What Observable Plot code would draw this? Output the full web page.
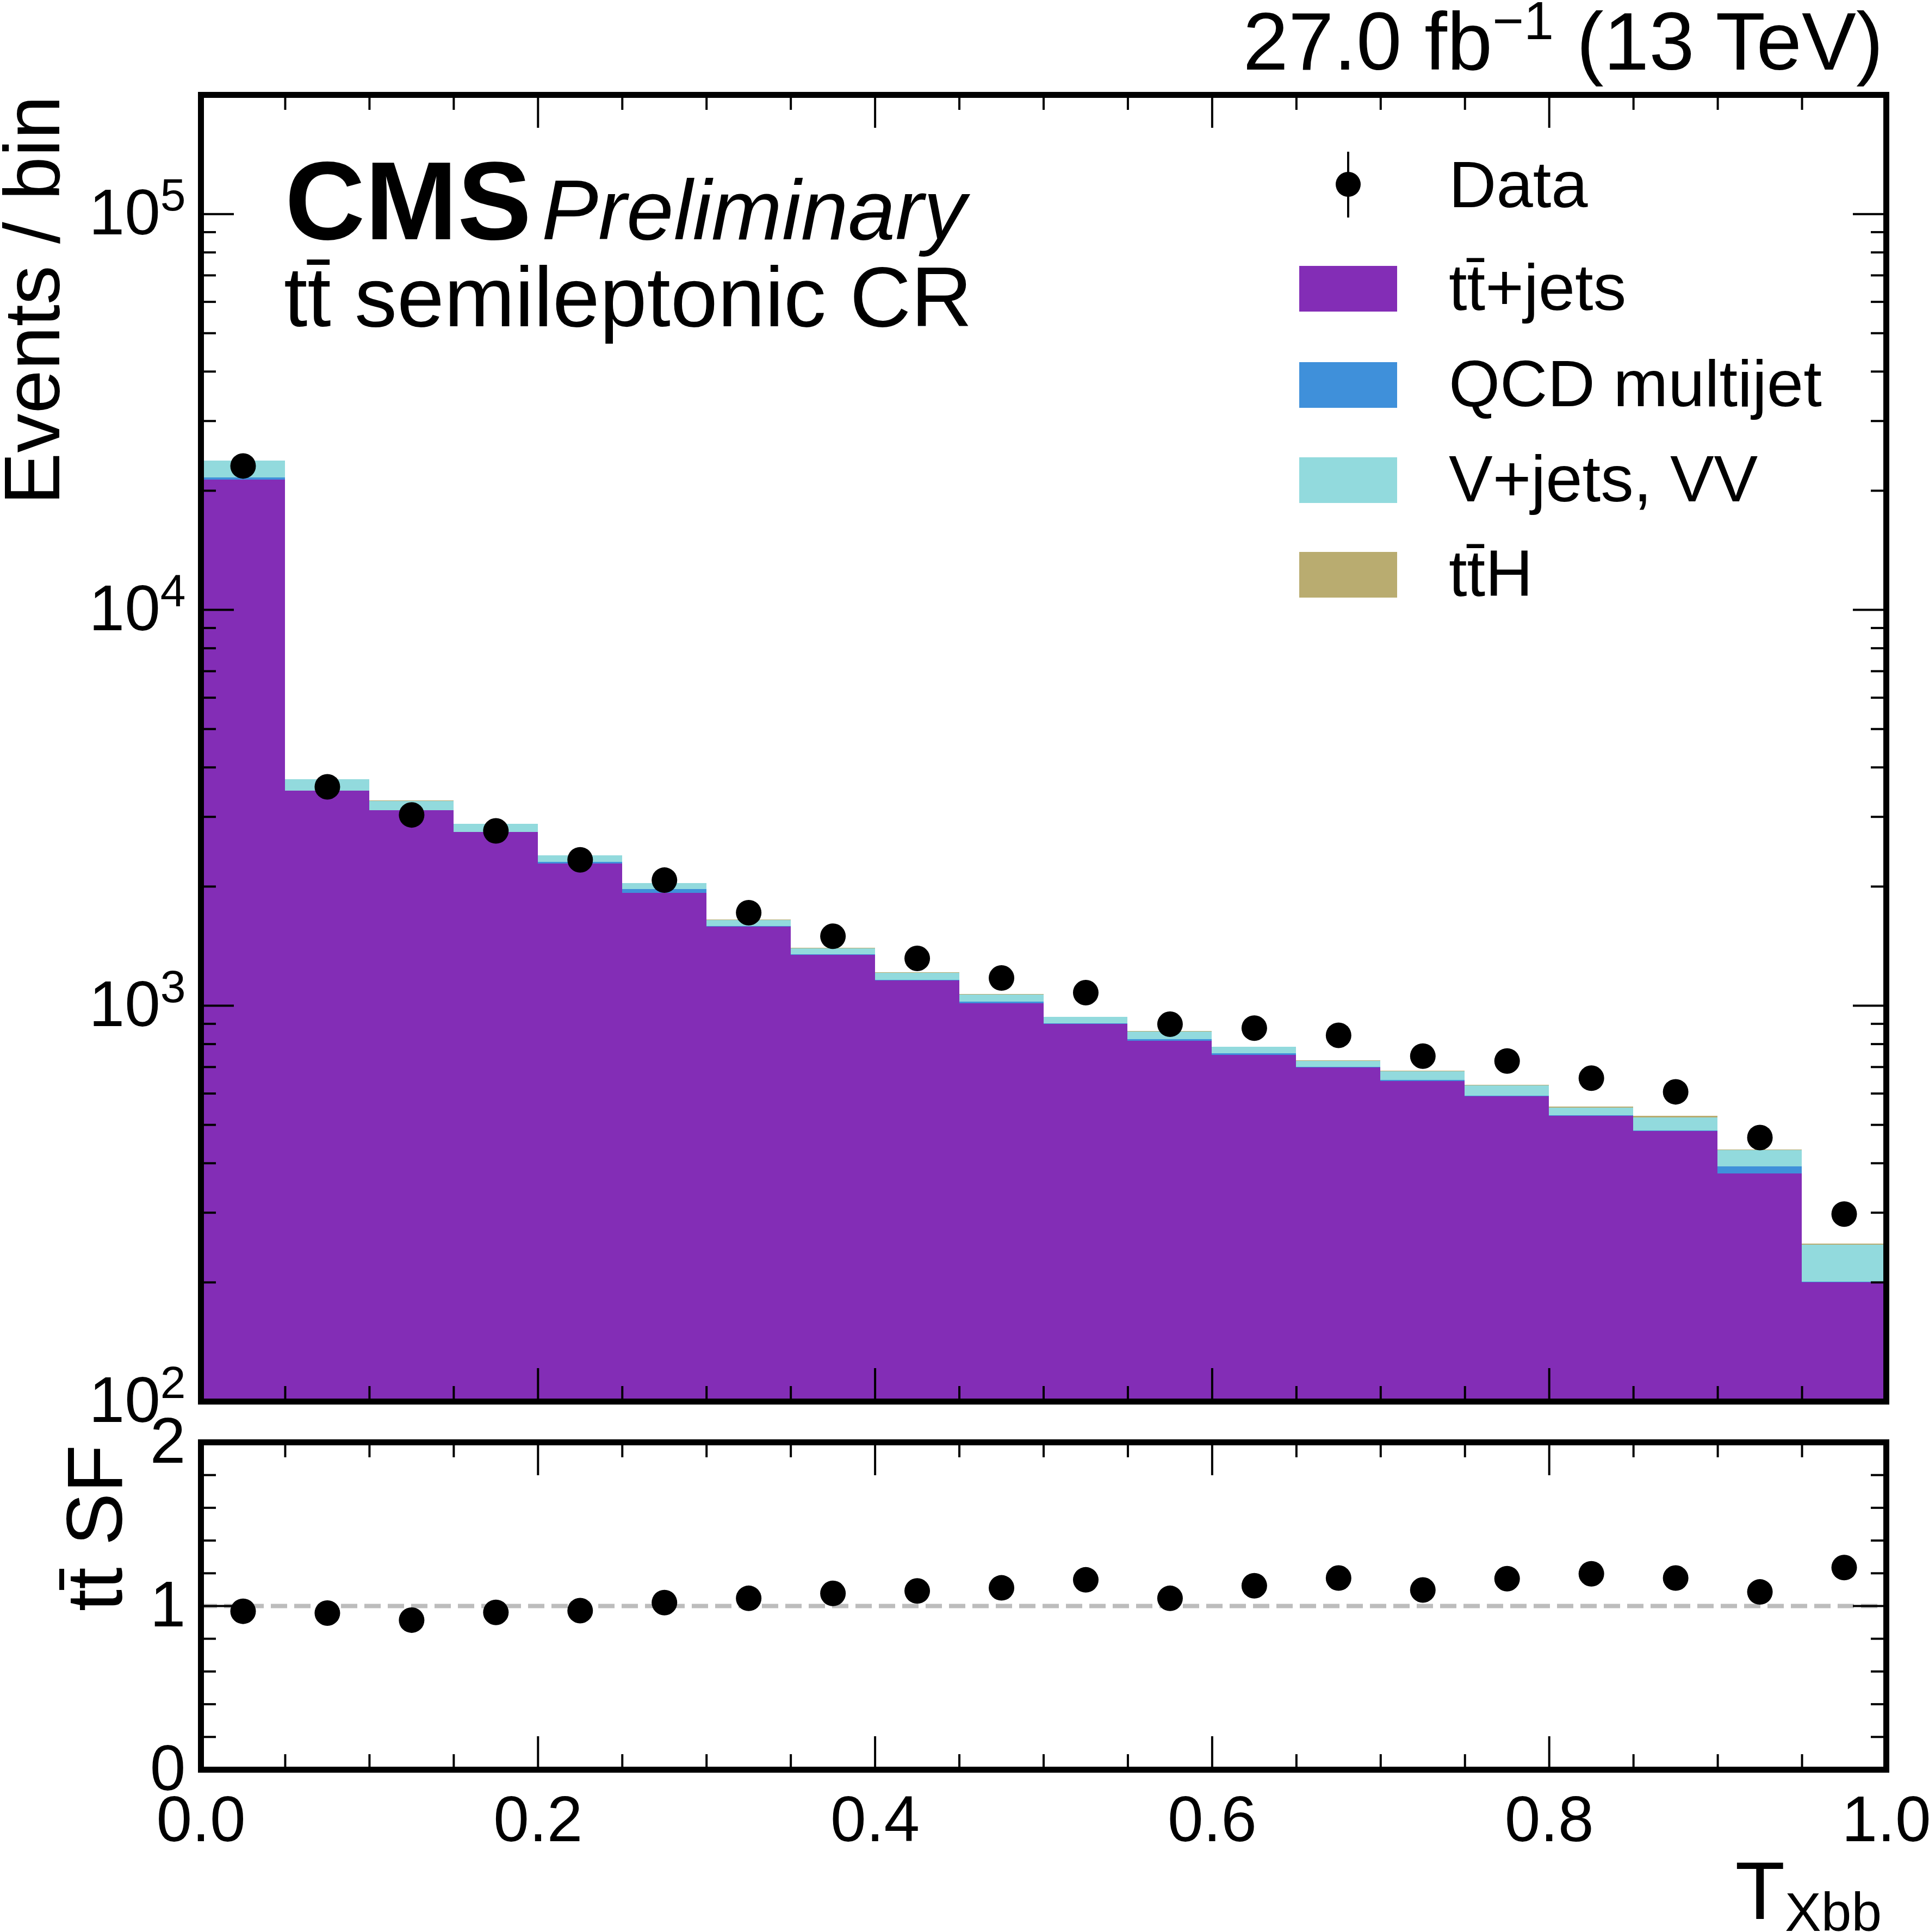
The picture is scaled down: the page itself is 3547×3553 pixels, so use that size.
<!DOCTYPE html>
<html>
<head>
<meta charset="utf-8">
<script src="https://cdn.jsdelivr.net/npm/d3@7"></script>
<script src="https://cdn.jsdelivr.net/npm/@observablehq/plot@0.6"></script>
<style>
html, body { margin: 0; padding: 0; background: #ffffff; }
#wrap { position: relative; width: 3547px; height: 3553px; overflow: hidden; background: #ffffff; }
#wrap > svg { position: absolute; left: 0; }
</style>
</head>
<body>
<div id="wrap"></div>
<script>
// ---------------- data ----------------
const binEdges = [0.00, 0.05, 0.10, 0.15, 0.20, 0.25, 0.30, 0.35, 0.40, 0.45, 0.50,
                  0.55, 0.60, 0.65, 0.70, 0.75, 0.80, 0.85, 0.90, 0.95, 1.00];
const binCenters = [0.025, 0.075, 0.125, 0.175, 0.225, 0.275, 0.325, 0.375, 0.425, 0.475,
                    0.525, 0.575, 0.625, 0.675, 0.725, 0.775, 0.825, 0.875, 0.925, 0.975];

const ttJets = [21300, 3487, 3110, 2740, 2282, 1928, 1581, 1344, 1158, 1013,
                899, 815, 750, 698, 644, 590, 527, 482, 376, 200];
const qcd    = [300, 5, 5, 5, 21, 39, 5, 3, 3, 11,
                2, 7, 7, 1, 5, 1, 1, 1, 16, 0.5];
const vjets  = [2200, 234, 174, 131, 88, 68, 57, 49, 49, 42,
                34, 37, 28.6, 25, 34, 37, 24, 39, 39, 48];
const ttH    = [20, 3, 3, 3, 3, 3, 3, 2, 2, 2,
                2, 2, 2, 2, 2, 2, 2.5, 3.5, 2, 2];
const dataCounts = [23100, 3573, 3034, 2765, 2337, 2076, 1718, 1498, 1317, 1175,
                    1079, 898, 878, 842, 746, 725, 656, 606, 464.5, 297.6];
const ttSF   = [0.968, 0.957, 0.914, 0.961, 0.972, 1.021, 1.047, 1.077, 1.092, 1.111,
                1.160, 1.047, 1.124, 1.171, 1.098, 1.167, 1.197, 1.171, 1.086, 1.235];

const processNames  = ["tt\u0304+jets", "QCD multijet", "V+jets, VV", "tt\u0304H"];
const processColors = ["#832db6", "#3f90da", "#92dadd", "#b9ac70"];
const processValues = [ttJets, qcd, vjets, ttH];
const legendLabels  = ["Data", ...processNames];

const yDomain = [100, 2e5];
const yMajorTicks = [100, 1000, 10000, 100000];
const yMinorTicks = [200, 300, 400, 500, 600, 700, 800, 900,
                     2000, 3000, 4000, 5000, 6000, 7000, 8000, 9000,
                     20000, 30000, 40000, 50000, 60000, 70000, 80000, 90000];
const yTickExponents = {100: "2", 1000: "3", 10000: "4", 100000: "5"};
const xMajorTicks = [0, 0.2, 0.4, 0.6, 0.8, 1.0];
const xMinorTicks = [0.05, 0.10, 0.15, 0.25, 0.30, 0.35, 0.45, 0.50, 0.55,
                     0.65, 0.70, 0.75, 0.85, 0.90, 0.95];
const xTickLabels = ["0.0", "0.2", "0.4", "0.6", "0.8", "1.0"];
const rMajorTicks = [0, 1, 2];
const rMinorTicks = [0.2, 0.4, 0.6, 0.8, 1.2, 1.4, 1.6, 1.8];

// ---------------- layout ----------------
const FONT = "'Liberation Sans', Arial, Helvetica, sans-serif";
const W = 3547, H = 3553;
const mainH = 2620, ratioH = H - mainH;
const mL = 369, mR = 79;
const frameW = W - mL - mR;
const mainTop = 174, mainBottomPx = 2577;
const mainFrameH = mainBottomPx - mainTop;
const rTop = 2652 - mainH, rBottomPx = 3254 - mainH;
const rFrameH = rBottomPx - rTop;
const majLen = 61, minLen = 28, tickW = 4;
const tickFont = 118;

// stacked rectangles
const stackRows = processNames.map(() => []);
for (let i = 0; i < binCenters.length; i++) {
  let cum = 0;
  processValues.forEach((vals, p) => {
    const y1 = p === 0 ? yDomain[0] : cum;
    cum += vals[i];
    stackRows[p].push({x1: binEdges[i], x2: binEdges[i + 1], y1, y2: cum});
  });
}
const dataRows = binCenters.map((x, i) => ({x, y: dataCounts[i]}));
const sfRows = binCenters.map((x, i) => ({x, y: ttSF[i]}));

function tickMarks(frameH, yMaj, yMin) {
  return [
    Plot.tickY(yMaj, {y: d => d, insetRight: frameW - majLen, stroke: "black", strokeWidth: tickW}),
    Plot.tickY(yMin, {y: d => d, insetRight: frameW - minLen, stroke: "black", strokeWidth: tickW}),
    Plot.tickY(yMaj, {y: d => d, insetLeft: frameW - majLen, stroke: "black", strokeWidth: tickW}),
    Plot.tickY(yMin, {y: d => d, insetLeft: frameW - minLen, stroke: "black", strokeWidth: tickW}),
    Plot.tickX(xMajorTicks, {x: d => d, insetTop: frameH - majLen, stroke: "black", strokeWidth: tickW}),
    Plot.tickX(xMinorTicks, {x: d => d, insetTop: frameH - minLen, stroke: "black", strokeWidth: tickW}),
    Plot.tickX(xMajorTicks, {x: d => d, insetBottom: frameH - majLen, stroke: "black", strokeWidth: tickW}),
    Plot.tickX(xMinorTicks, {x: d => d, insetBottom: frameH - minLen, stroke: "black", strokeWidth: tickW})
  ];
}

// ---------------- main panel ----------------
const main = Plot.plot({
  width: W,
  height: mainH,
  marginLeft: mL,
  marginRight: mR,
  marginTop: mainTop,
  marginBottom: mainH - mainBottomPx,
  style: {fontFamily: FONT, fontSize: tickFont + "px", background: "transparent", overflow: "visible"},
  x: {domain: [0, 1], axis: null},
  y: {type: "log", domain: yDomain, axis: null},
  marks: [
    ...stackRows.map((rows, p) => Plot.rect(rows, {
      x1: "x1", x2: "x2", y1: "y1", y2: "y2",
      fill: processColors[p], shapeRendering: "crispEdges"
    })),
    ...tickMarks(mainFrameH, yMajorTicks, yMinorTicks),
    Plot.dot(dataRows, {x: "x", y: "y", r: 23.5, fill: "black", stroke: "none"}),
    Plot.axisY({ticks: yMajorTicks, tickFormat: d => "10^" + yTickExponents[d],
                tickSize: 0, tickPadding: 28, fontSize: tickFont, label: null}),
    Plot.frame({stroke: "black", strokeWidth: 11})
  ]
});

// ---------------- ratio panel ----------------
const ratio = Plot.plot({
  width: W,
  height: ratioH,
  marginLeft: mL,
  marginRight: mR,
  marginTop: rTop,
  marginBottom: ratioH - rBottomPx,
  style: {fontFamily: FONT, fontSize: tickFont + "px", background: "transparent", overflow: "visible"},
  x: {domain: [0, 1], axis: null},
  y: {domain: [0, 2], axis: null},
  marks: [
    Plot.ruleY([1], {stroke: "#bdbdbd", strokeWidth: 8, strokeDasharray: "30,13"}),
    ...tickMarks(rFrameH, rMajorTicks, rMinorTicks),
    Plot.dot(sfRows, {x: "x", y: "y", r: 23.5, fill: "black", stroke: "none"}),
    Plot.axisY({ticks: rMajorTicks, tickFormat: d => String(d),
                tickSize: 0, tickPadding: 28, fontSize: tickFont, label: null}),
    Plot.axisX({ticks: xMajorTicks, tickFormat: d => xTickLabels[xMajorTicks.indexOf(d)],
                tickSize: 0, tickPadding: 48, fontSize: tickFont, label: null}),
    Plot.frame({stroke: "black", strokeWidth: 11})
  ]
});

const wrap = document.getElementById("wrap");
main.style.top = "0px";
ratio.style.top = mainH + "px";
wrap.appendChild(main);
wrap.appendChild(ratio);

// superscripts on the log-axis tick labels (10^k)
main.querySelectorAll('g[aria-label="y-axis tick label"] text').forEach(t => {
  const s = t.textContent;
  const m = /^10\^(\d+)$/.exec(s);
  if (!m) return;
  t.textContent = "";
  const ns = "http://www.w3.org/2000/svg";
  const a = document.createElementNS(ns, "tspan");
  a.textContent = "10";
  const b = document.createElementNS(ns, "tspan");
  b.setAttribute("font-size", "84");
  b.setAttribute("dy", "-44");
  b.textContent = m[1];
  t.appendChild(a);
  t.appendChild(b);
});

// ---------------- overlay: labels, legend ----------------
const ov = d3.select(wrap).append("svg")
  .attr("width", W).attr("height", H)
  .style("top", "0px")
  .attr("font-family", FONT)
  .style("white-space", "pre");

// luminosity
const lumi = ov.append("text").attr("x", 3463).attr("y", 128)
  .attr("text-anchor", "end").attr("font-size", 150);
lumi.append("tspan").text("27.0 fb");
lumi.append("tspan").attr("font-size", 99).attr("dy", -56).text("\u22121");
lumi.append("tspan").attr("dy", 56).text(" (13 TeV)");

// CMS Preliminary + region
ov.append("text").attr("x", 524).attr("y", 440).attr("font-size", 204)
  .attr("font-weight", "bold").text("CMS");
ov.append("text").attr("x", 996).attr("y", 440).attr("font-size", 156)
  .attr("font-style", "italic").text("Preliminary");
ov.append("text").attr("x", 522).attr("y", 600).attr("font-size", 156)
  .text("tt\u0304 semileptonic CR");

// axis titles
ov.append("text").attr("transform", "translate(109,176) rotate(-90)")
  .attr("text-anchor", "end").attr("font-size", 144).text("Events / bin");
ov.append("text").attr("transform", "translate(224,2657) rotate(-90)")
  .attr("text-anchor", "end").attr("font-size", 145).text("tt\u0304 SF");
const xl = ov.append("text").attr("x", 3460).attr("y", 3529)
  .attr("text-anchor", "end").attr("font-size", 150);
xl.append("tspan").text("T");
xl.append("tspan").attr("font-size", 100).attr("dy", 22).text("Xbb");

// legend
const legX = 2389, legSw = 180, legSh = 84, legTextX = 2664, legFont = 121;
const legRowTops = [489, 666, 841, 1015];
// data entry
ov.append("line").attr("x1", 2479).attr("x2", 2479).attr("y1", 279).attr("y2", 400)
  .attr("stroke", "black").attr("stroke-width", 4);
ov.append("circle").attr("cx", 2479).attr("cy", 339).attr("r", 23).attr("fill", "black");
ov.append("text").attr("x", legTextX).attr("y", 381).attr("font-size", legFont).text(legendLabels[0]);
processNames.forEach((name, p) => {
  ov.append("rect").attr("x", legX).attr("y", legRowTops[p])
    .attr("width", legSw).attr("height", legSh).attr("fill", processColors[p]);
  ov.append("text").attr("x", legTextX).attr("y", legRowTops[p] + legSh - 3)
    .attr("font-size", legFont).text(name);
});
</script>
</body>
</html>
